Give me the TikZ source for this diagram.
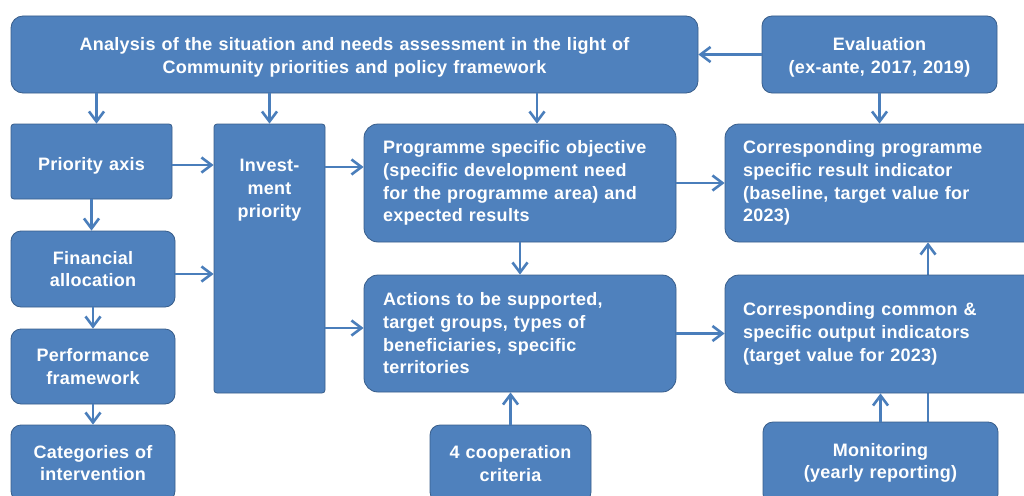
\documentclass[tikz,border=0pt]{standalone}
\usepackage{fontspec}
\setmainfont{Liberation Sans}[LetterSpace=1.5, WordSpace=1.15]
\usetikzlibrary{arrows.meta,calc,backgrounds}
\definecolor{boxblue}{RGB}{79,129,189}
\definecolor{boxedge}{RGB}{56,93,138}
\definecolor{arrblue}{RGB}{74,126,187}
\tikzset{
  box/.style={fill=boxblue, draw=boxedge, line width=0.8pt, text=white,
    font=\bfseries\fontsize{18}{22.7}\selectfont, align=center,
    inner sep=0pt, rounded corners=10pt},
  boxtext/.style={text=white, font=\bfseries\fontsize{18}{22.7}\selectfont,
    align=center, inner sep=0pt},
  arr/.style={draw=arrblue, line width=2.6pt,
    -{Straight Barb[length=10pt,width=15pt]}}
}
\begin{document}
\begin{tikzpicture}[x=1pt,y=-1pt]
\useasboundingbox (0,0) rectangle (1024,495);
\clip (0,0) rectangle (1024,495);

% top row
\node[box, minimum width=687, minimum height=77, rounded corners=12pt] (ana) at (354.5,54.5) {};
\node[boxtext] (anatext) at (354.5,57)
  {Analysis of the situation and needs assessment in the light of\\Community priorities and policy framework};
\node[box, minimum width=235, minimum height=77] (eval) at (879.5,54.5) {};
\node[boxtext] (evaltext) at (879.5,57) {Evaluation\\(ex-ante, 2017, 2019)};

% left column
\node[box, minimum width=161, minimum height=75, rounded corners=3pt] (prio) at (91.5,161.5) {};
\node[boxtext] (priotext) at (91.5,166) {Priority axis};
\node[box, minimum width=164, minimum height=76] (fin) at (93,269) {Financial\\allocation};
\node[box, minimum width=164, minimum height=75] (perf) at (93,366.5) {Performance\\framework};
\node[box, minimum width=164, minimum height=76] (cat) at (93,463) {Categories of\\intervention};

% investment priority
\node[box, minimum width=111, minimum height=269, rounded corners=3pt] (inv) at (269.5,258.5) {};
\node[boxtext] (invtext) at (269.5,190) {Invest-\\ment\\priority};

% middle column
\node[box, minimum width=312, minimum height=118, rounded corners=14pt, text width=274, align=left] (prog) at (520,183)
  {Programme specific objective\\(specific development need\\for the programme area) and\\expected results};
\node[box, minimum width=312, minimum height=117, rounded corners=14pt, text width=274, align=left] (act) at (520,333.5)
  {Actions to be supported,\\target groups, types of\\beneficiaries, specific\\territories};
\node[box, minimum width=161, minimum height=77] (coop) at (510.5,463.5) {4 cooperation\\criteria};

% right column
\node[box, minimum width=315, minimum height=118, rounded corners=14pt, text width=279, align=left] (res) at (882.5,183)
  {Corresponding programme\\specific result indicator\\(baseline, target value for\\2023)};
\node[box, minimum width=315, minimum height=118, rounded corners=14pt, text width=279, align=left] (out) at (882.5,334)
  {Corresponding common \&\\specific output indicators\\(target value for 2023)};
\node[box, minimum width=235, minimum height=82] (mon) at (880.5,463) {Monitoring\\(yearly reporting)};

% connectors
\draw[arr] (eval.west) -- (ana.east);
\draw[arr] ($(ana.south -| prio.north)+(5,0)$) -- ($(prio.north)+(5,0)$);
\draw[arr] (ana.south -| inv.north) -- (inv.north);
\draw[arr] ($(ana.south -| prog.north)+(17,0)$) -- ($(prog.north)+(17,0)$);
\draw[arr] (eval.south) -- (eval.south |- res.north);

\draw[arr] ($(prio.east)+(0,3.5)$) -- ($(prio.east -| inv.west)+(0,3.5)$);
\draw[arr] (prio.south) -- (prio.south |- fin.north);
\draw[arr] ($(fin.east)+(0,5)$) -- ($(fin.east -| inv.west)+(0,5)$);
\draw[arr] (fin.south) -- (perf.north);
\draw[arr] (perf.south) -- (cat.north);

\draw[arr] ($(inv.east |- prog.west)+(0,-16)$) -- ($(prog.west)+(0,-16)$);
\draw[arr] ($(inv.east |- act.west)+(0,-5.5)$) -- ($(act.west)+(0,-5.5)$);
\draw[arr] (prog.south) -- (act.north);
\draw[arr] (prog.east) -- (prog.east -| res.west);
\draw[arr] (act.east) -- (act.east -| out.west);
\draw[arr] (coop.north) -- (coop.north |- act.south);

\draw[arr] (mon.north) -- (mon.north |- out.south);
\begin{pgfonlayer}{background}
\draw[arr] ($(mon.north)+(47.5,0)$) -- ($(res.south)+(45.5,0)$);
\end{pgfonlayer}
\end{tikzpicture}
\end{document}
